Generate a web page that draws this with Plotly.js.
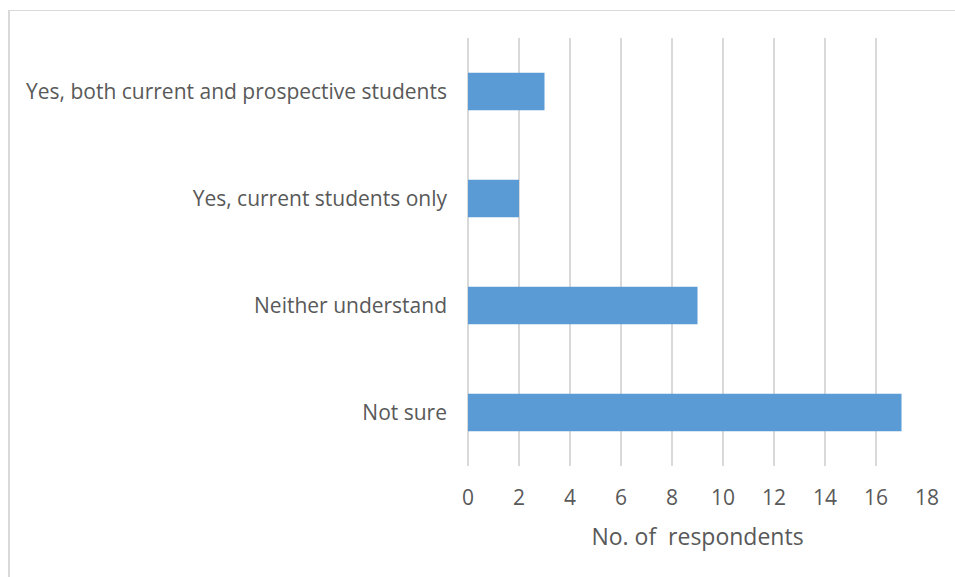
<!DOCTYPE html>
<html>
<head>
<meta charset="utf-8">
<script src="https://cdn.plot.ly/plotly-3.0.1.min.js"></script>
<style>
html,body{margin:0;padding:0;background:#fff;}
#frame{position:absolute;left:8px;top:10px;width:960px;height:580px;border:2px solid #d9d9d9;border-width:1px 0 0 2px;}
#chart{position:absolute;left:0;top:0;width:955px;height:577px;}
</style>
</head>
<body>
<div id="frame"></div>
<div id="chart"></div>
<script>
const categories = ["Not sure", "Neither understand", "Yes, current students only", "Yes, both current and prospective students"];
const counts = [17, 9, 2, 3];
const xTicks = [0, 2, 4, 6, 8, 10, 12, 14, 16, 18];

const font = "'Open Sans', sans-serif";
Plotly.newPlot("chart", [{
  type: "bar",
  orientation: "h",
  y: categories,
  x: counts,
  marker: {color: "#5b9bd5"},
  hoverinfo: "x+y"
}], {
  width: 955, height: 577,
  margin: {l: 468, r: 28, t: 38, b: 111},
  paper_bgcolor: "rgba(0,0,0,0)",
  plot_bgcolor: "rgba(0,0,0,0)",
  bargap: 0.65,
  showlegend: false,
  font: {family: font, color: "#595959"},
  xaxis: {
    range: [0, 18],
    tickvals: xTicks,
    ticktext: xTicks.map(String),
    showgrid: true, gridcolor: "#d9d9d9", gridwidth: 2,
    zeroline: true, zerolinecolor: "#d9d9d9", zerolinewidth: 2,
    showline: false,
    ticks: "", ticklabelstandoff: 17,
    tickfont: {size: 21, color: "#595959"},
    title: {text: "No. of  respondents", font: {size: 23, color: "#595959"}, standoff: 18}
  },
  yaxis: {
    showgrid: false, zeroline: false, showline: false,
    ticks: "", ticklabelstandoff: 20,
    tickfont: {size: 21, color: "#595959"}
  }
}, {displayModeBar: false, staticPlot: true});
</script>
</body>
</html>
